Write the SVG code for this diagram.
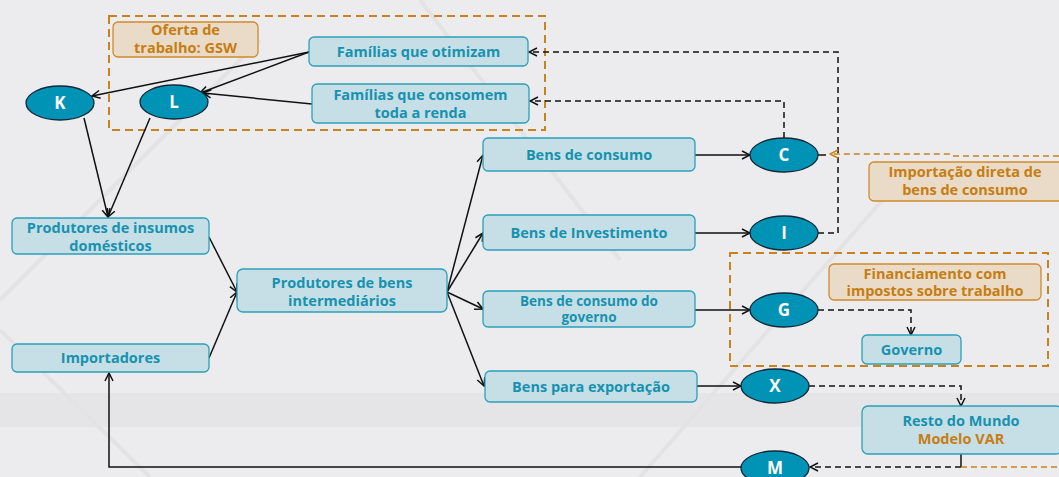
<svg xmlns="http://www.w3.org/2000/svg" width="1059" height="477" viewBox="0 0 1059 477">
<defs>
<marker id="ab" markerWidth="10" markerHeight="10" refX="9" refY="5" orient="auto" markerUnits="userSpaceOnUse"><path d="M1,1 L9,5 L1,9" fill="none" stroke="#111" stroke-width="1.5"/></marker>
<marker id="ao" markerWidth="10" markerHeight="10" refX="9" refY="5" orient="auto" markerUnits="userSpaceOnUse"><path d="M1,1 L9,5 L1,9" fill="none" stroke="#c9821c" stroke-width="1.5"/></marker>
<style>
.box{fill:#c6dfe6;stroke:#2aa0bb;stroke-width:1.3}
.note{fill:#e9dbc7;stroke:#d08b2a;stroke-width:1.3}
.t{font-family:"Open Sans","Noto Sans",sans-serif;font-weight:bold;font-size:14.5px;fill:#1692b0;text-anchor:middle}
.to{font-family:"Open Sans","Noto Sans",sans-serif;font-weight:bold;font-size:14.5px;fill:#c67d12;text-anchor:middle}
.el{fill:#0093b5;stroke:#13283a;stroke-width:1.3}
.et{font-family:"Open Sans","Noto Sans",sans-serif;font-weight:bold;font-size:17px;fill:#fff;text-anchor:middle}
.grp{fill:none;stroke:#c9821c;stroke-width:2;stroke-dasharray:8,5}
.s{fill:none;stroke:#111;stroke-width:1.5}
.d{fill:none;stroke:#111;stroke-width:1.5;stroke-dasharray:6,4}
.do{fill:none;stroke:#c9821c;stroke-width:1.5;stroke-dasharray:6,4}
</style>
</defs>
<rect width="1059" height="477" fill="#ececee"/>
<rect x="0" y="393" width="1059" height="34" fill="#e5e5e7"/>
<g stroke="#e3e3e6" stroke-width="4" fill="none">
<path d="M0,300 L260,40"/><path d="M420,0 L620,260"/><path d="M640,477 L900,180"/><path d="M150,477 L0,330"/>
</g>

<rect class="grp" x="109" y="16" width="436" height="114"/>
<rect class="grp" x="730" y="253" width="318" height="113"/>

<g id="connectors">
<path class="s" d="M309,52 L92,96" marker-end="url(#ab)"/>
<path class="s" d="M309,52 L200,93" marker-end="url(#ab)"/>
<path class="s" d="M312,104 L203,93" marker-end="url(#ab)"/>
<path class="s" d="M84,118 L108,217" marker-end="url(#ab)"/>
<path class="s" d="M150,118 L108,217" marker-end="url(#ab)"/>
<path class="s" d="M209,237 L237,292" marker-end="url(#ab)"/>
<path class="s" d="M209,358 L237,292" marker-end="url(#ab)"/>
<path class="s" d="M447,292 L483,155" marker-end="url(#ab)"/>
<path class="s" d="M447,292 L483,233" marker-end="url(#ab)"/>
<path class="s" d="M447,292 L483,309" marker-end="url(#ab)"/>
<path class="s" d="M447,292 L484,386" marker-end="url(#ab)"/>
<path class="s" d="M695,155 L750,155" marker-end="url(#ab)"/>
<path class="s" d="M695,233 L750,233" marker-end="url(#ab)"/>
<path class="s" d="M695,310 L750,310" marker-end="url(#ab)"/>
<path class="s" d="M697,386 L741,386" marker-end="url(#ab)"/>
<path class="s" d="M741,467 L109,467 L109,373" marker-end="url(#ab)"/>
<path class="d" d="M818,233 L838,233 L838,52 L529,52" marker-end="url(#ab)"/>
<path class="d" d="M784,138 L784,101 L530,101" marker-end="url(#ab)"/>
<path class="s" d="M818,155 L826,155"/>
<path class="do" d="M1059,156 L953,156 L951,154 L830,154" marker-end="url(#ao)"/>
<path class="d" d="M818,310 L911,310 L911,335" marker-end="url(#ab)"/>
<path class="d" d="M809,386 L961,386 L961,406" marker-end="url(#ab)"/>
<path class="s" d="M961,454 L961,467" stroke="#c9821c"/>
<path class="do" d="M961,467 L1059,467"/>
<path class="d" d="M961,467 L810,467" marker-end="url(#ab)"/>
</g>

<g id="oferta"><rect class="note" x="113" y="22" width="145" height="35" rx="5"/><text class="to" x="185.5" y="35">Oferta de</text><text class="to" x="185.5" y="52.5">trabalho: GSW</text></g>
<g id="otimizam"><rect class="box" x="309" y="37" width="219" height="29" rx="5"/><text class="t" x="418.5" y="57">Famílias que otimizam</text></g>
<g id="consomem"><rect class="box" x="312" y="84" width="217" height="39" rx="5"/><text class="t" x="420.5" y="100">Famílias que consomem</text><text class="t" x="420.5" y="117.5">toda a renda</text></g>
<g id="K"><ellipse class="el" cx="60" cy="103" rx="34" ry="17"/><text class="et" x="60" y="109">K</text></g>
<g id="L"><ellipse class="el" cx="174" cy="102" rx="34" ry="17"/><text class="et" x="174" y="108">L</text></g>
<g id="insumos"><rect class="box" x="12" y="218" width="197" height="36" rx="5"/><text class="t" x="110.5" y="233">Produtores de insumos</text><text class="t" x="110.5" y="250.5">domésticos</text></g>
<g id="importadores"><rect class="box" x="12" y="344" width="197" height="28" rx="5"/><text class="t" x="110.5" y="363">Importadores</text></g>
<g id="intermediarios"><rect class="box" x="237" y="269" width="210" height="43" rx="6"/><text class="t" x="342" y="288">Produtores de bens</text><text class="t" x="342" y="305.5">intermediários</text></g>
<g id="consumo"><rect class="box" x="483" y="138" width="212" height="33" rx="5"/><text class="t" x="589" y="159.5">Bens de consumo</text></g>
<g id="investimento"><rect class="box" x="483" y="215" width="212" height="35" rx="5"/><text class="t" x="589" y="238">Bens de Investimento</text></g>
<g id="governo-bens"><rect class="box" x="483" y="291" width="212" height="36" rx="5"/><text class="t" x="589" y="306" style="font-size:13.5px">Bens de consumo do</text><text class="t" x="589" y="322" style="font-size:13.5px">governo</text></g>
<g id="exportacao"><rect class="box" x="485" y="371" width="212" height="31" rx="5"/><text class="t" x="591" y="391.5">Bens para exportação</text></g>
<g id="C"><ellipse class="el" cx="784" cy="155" rx="34" ry="17"/><text class="et" x="784" y="161">C</text></g>
<g id="I"><ellipse class="el" cx="784" cy="233" rx="34" ry="17"/><text class="et" x="784" y="239">I</text></g>
<g id="G"><ellipse class="el" cx="784" cy="310" rx="34" ry="17"/><text class="et" x="784" y="316">G</text></g>
<g id="X"><ellipse class="el" cx="775" cy="386" rx="34" ry="17"/><text class="et" x="775" y="392">X</text></g>
<g id="M"><ellipse class="el" cx="775" cy="468" rx="34" ry="17"/><text class="et" x="775" y="474">M</text></g>
<g id="importacao"><rect class="note" x="869" y="162" width="195" height="39" rx="5"/><text class="to" x="965" y="177">Importação direta de</text><text class="to" x="965" y="194.5">bens de consumo</text></g>
<g id="financiamento"><rect class="note" x="829" y="264" width="212" height="36" rx="5"/><text class="to" x="935" y="279">Financiamento com</text><text class="to" x="935" y="296">impostos sobre trabalho</text></g>
<g id="governo"><rect class="box" x="862" y="335" width="99" height="29" rx="5"/><text class="t" x="911.5" y="355">Governo</text></g>
<g id="resto"><rect class="box" x="862" y="406" width="200" height="48" rx="6"/><text class="t" x="961" y="426">Resto do Mundo</text><text class="to" x="961" y="444">Modelo VAR</text></g>
</svg>
